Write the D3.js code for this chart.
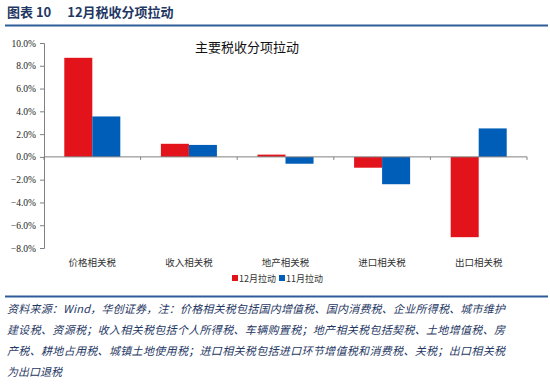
<!DOCTYPE html>
<html><head><meta charset="utf-8">
<script src="https://cdn.jsdelivr.net/npm/d3@7"></script>
<style>body{margin:0;background:#fff}svg{display:block}</style>
</head><body>
<svg id="c" width="550" height="386"></svg>
<script>
const categories = ["价格相关税","收入相关税","地产相关税","进口相关税","出口相关税"];
const seriesNames = ["12月拉动","11月拉动"];
const dec = [8.7, 1.15, 0.2, -0.95, -7.05];
const nov = [3.55, 1.05, -0.6, -2.4, 2.5];
const yTicks = [10,8,6,4,2,0,-2,-4,-6,-8];
const colors = ["#E3131C","#005EB8"];
const footLines = [
 "资料来源：Wind，华创证券，注：价格相关税包括国内增值税、国内消费税、企业所得税、城市维护",
 "建设税、资源税；收入相关税包括个人所得税、车辆购置税；地产相关税包括契税、土地增值税、房",
 "产税、耕地占用税、城镇土地使用税；进口相关税包括进口环节增值税和消费税、关税；出口相关税",
 "为出口退税"
];

const svg = d3.select("#c");
const cjk = "'Noto Sans CJK SC', sans-serif";
const navy = "#1F3864";

// header
svg.append("text").attr("x",7).attr("y",17).attr("font-family",cjk).attr("font-weight","bold")
  .attr("font-size",13).attr("fill",navy).text("图表 10　 12月税收分项拉动");
svg.append("line").attr("x1",5).attr("x2",548).attr("y1",25.5).attr("y2",25.5)
  .attr("stroke","#2E5C9A").attr("stroke-width",2);

// chart
const y = d3.scaleLinear().domain([-8,10]).range([248,43]);
const x0 = d3.scaleBand().domain(categories).range([44,527]);
const b = x0.bandwidth();
const x1 = d3.scaleBand().domain(seriesNames).range([b*0.21,b*0.79]);

svg.append("text").attr("x",247).attr("y",52).attr("text-anchor","middle").attr("font-family",cjk)
  .attr("font-size",13).attr("fill","#111").text("主要税收分项拉动");

const data = categories.map((c,i)=>({c, v:[dec[i],nov[i]]}));
const g = svg.append("g");
data.forEach(d=>{
  d.v.forEach((v,j)=>{
    g.append("rect").attr("x",x0(d.c)+x1(seriesNames[j])).attr("width",x1.bandwidth())
      .attr("y",y(Math.max(0,v))).attr("height",Math.abs(y(v)-y(0))).attr("fill",colors[j]);
  });
});

// y axis
const yAxis = d3.axisLeft(y).tickValues(yTicks).tickFormat(d=>d3.format(".1f")(d)+"%").tickSize(4).tickPadding(4);
const ya = svg.append("g").attr("transform","translate(44,0)").call(yAxis);
ya.selectAll("path,line").attr("stroke","#808080");
ya.selectAll("text").attr("font-family","'Liberation Serif', serif").attr("font-size",9.5).attr("fill","#222");

// x axis at zero
const xa = svg.append("g").attr("transform",`translate(0,${y(0)})`);
xa.append("line").attr("x1",44).attr("x2",527).attr("stroke","#808080");
const bounds = categories.map(c=>x0(c)).concat([x0.range()[1]]);
bounds.forEach(bx=>xa.append("line").attr("x1",bx).attr("x2",bx).attr("y1",0).attr("y2",3).attr("stroke","#808080"));

// category labels
categories.forEach(c=>{
  svg.append("text").attr("x",x0(c)+b/2).attr("y",266).attr("text-anchor","middle")
    .attr("font-family",cjk).attr("font-size",9.5).attr("fill","#333").text(c);
});

// legend
const lg = svg.append("g").attr("transform","translate(232,282)");
seriesNames.forEach((s,j)=>{
  const lx = j*47;
  lg.append("rect").attr("x",lx).attr("y",-7).attr("width",6).attr("height",6).attr("fill",colors[j]);
  lg.append("text").attr("x",lx+7).attr("y",0).attr("font-family",cjk).attr("font-size",9).attr("fill","#333").text(s);
});

// footer
svg.append("line").attr("x1",5).attr("x2",548).attr("y1",296.5).attr("y2",296.5)
  .attr("stroke","#2E5C9A").attr("stroke-width",2);
footLines.forEach((t,i)=>{
  const tx = svg.append("text").attr("x",7).attr("y",313+i*21).attr("font-family",cjk)
    .attr("font-size",11).attr("font-style","italic").attr("fill",navy).text(t);
  if(i<3) tx.attr("textLength",498).attr("lengthAdjust","spacing");
});
</script>
</body></html>
